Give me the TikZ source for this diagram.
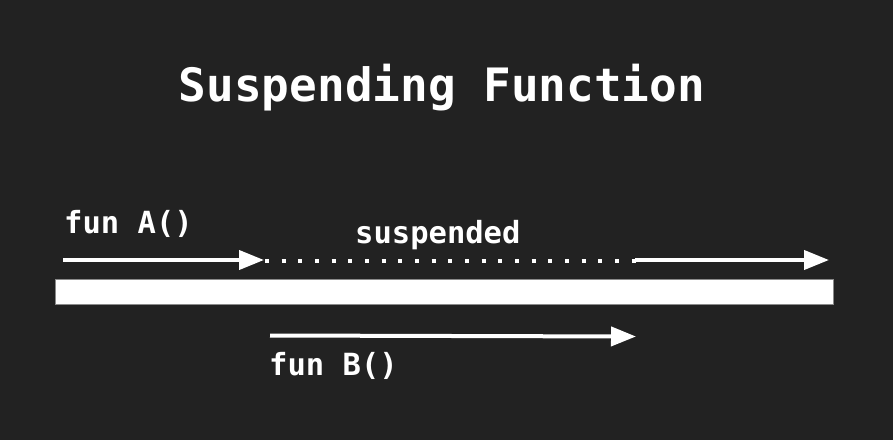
\documentclass[tikz,border=0pt]{standalone}
\usepackage{fontspec}
\setmonofont{DejaVu Sans Mono}
\usepackage{tikz}
\usetikzlibrary{calc, positioning}
\usetikzlibrary{arrows.meta}
\tikzset{>={Triangle[length=25pt, width=19pt]}}
\definecolor{bgdark}{HTML}{222222}
\definecolor{bargray}{HTML}{8A8A8A}
\tikzset{
	flow/.style={line width=4pt, white, ->},
	label/.style={text=white, font=\ttfamily\bfseries\fontsize{30.5}{36}\selectfont, anchor=base west, inner sep=0pt},
}

\begin{document}
\begin{tikzpicture}[x=1pt, y=1pt]
			\fill [bgdark] (0,0) rectangle (893,440);
			\node [label, anchor=base, font=\ttfamily\bfseries\fontsize{46}{54}\selectfont] (title) at (442,338) {Suspending Function};
			\coordinate (a0) at (63,180);
			\coordinate (a1) at (264,180);
			\coordinate (c0) at (635,180);
			\coordinate (c1) at (829,180);
			\coordinate (b0) at (270,104.5);
			\coordinate (b1) at (636,103.5);
			\draw [flow] (a0) -- (a1);
			\draw [white, line width=4pt, dash pattern=on 4pt off 12.67pt] (265,178.7) -- (637,178.7);
			\draw [flow] (c0) -- (c1);
			\draw [bargray, fill=white, line width=0.8pt] (55,136) rectangle (833,161);
			\draw [flow] (b0) -- (b1);
			\node [label] (funa) at (64,207) {fun A()};
			\node [label] (susp) at (355,197) {suspended};
			\node [label] (funb) at (269,65) {fun B()};
		\end{tikzpicture}
\end{document}
